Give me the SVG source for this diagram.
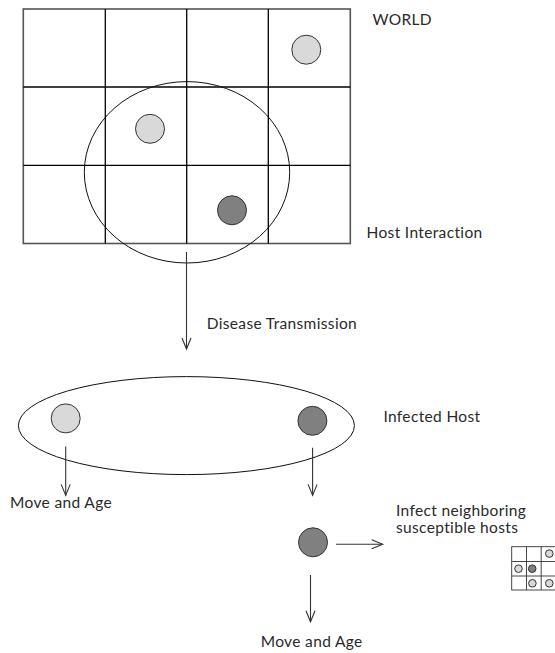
<svg xmlns="http://www.w3.org/2000/svg" width="555" height="653" viewBox="0 0 555 653">
<style>
.lbl{font-family:Lato,"Noto Sans","DejaVu Sans",sans-serif;font-size:15.5px;letter-spacing:0.35px;fill:#2a2a2a}
.grid{fill:none;stroke:#000;stroke-width:1.3}
.outer{fill:none;stroke:#555;stroke-width:1.6}
.ring{fill:none;stroke:#111;stroke-width:1}
.light{fill:#d9d9d9;stroke:#333;stroke-width:1}
.dark{fill:#808080;stroke:#333;stroke-width:1}
.conn{fill:none;stroke:#333;stroke-width:1.1;marker-end:url(#vh)}
.sg{fill:none;stroke:#333;stroke-width:0.9}
</style>
<defs>
<marker id="vh" markerUnits="userSpaceOnUse" markerWidth="14" markerHeight="14" viewBox="-12 -7 14 14" refX="0" refY="0" orient="auto" overflow="visible">
<path d="M-11,-4.5 L0,0 L-11,4.5" fill="none" stroke="#333" stroke-width="1.1"/>
</marker>
</defs>
<rect width="555" height="653" fill="#fff"/>

<g id="world">
<rect class="outer" x="23.3" y="9" width="327" height="234.5"/>
<line class="grid" x1="105.3" y1="9" x2="105.3" y2="243.5"/>
<line class="grid" x1="186.7" y1="9" x2="186.7" y2="243.5" stroke-width="2"/>
<line class="grid" x1="268.3" y1="9" x2="268.3" y2="243.5"/>
<line class="grid" x1="23.3" y1="87" x2="350.3" y2="87"/>
<line class="grid" x1="23.3" y1="165.3" x2="350.3" y2="165.3"/>
<text class="lbl" x="372.5" y="25">WORLD</text>
</g>

<g id="host-interaction">
<ellipse class="ring" cx="187" cy="172.3" rx="102.7" ry="90.7"/>
<text class="lbl" x="366.5" y="238.3">Host Interaction</text>
</g>

<g id="host-a"><circle class="light" cx="306.3" cy="49.7" r="14.5"/></g>
<g id="host-b"><circle class="light" cx="150" cy="128.8" r="14.5"/></g>
<g id="host-c"><circle class="dark" cx="232" cy="210.3" r="14.5"/></g>

<g id="infected-host">
<ellipse class="ring" cx="186.4" cy="425.6" rx="168" ry="49"/>
<circle class="light" cx="65.7" cy="418.4" r="14.5"/>
<circle class="dark" cx="312.4" cy="420.8" r="14.5"/>
<text class="lbl" x="383.4" y="422">Infected Host</text>
</g>

<g id="infected-single">
<circle class="dark" cx="313" cy="542.3" r="14.5"/>
</g>

<g id="neighbor-grid">
<rect class="sg" x="511.7" y="546.7" width="44.3" height="43.3"/>
<line class="sg" x1="526.5" y1="546.7" x2="526.5" y2="590"/>
<line class="sg" x1="541.2" y1="546.7" x2="541.2" y2="590"/>
<line class="sg" x1="511.7" y1="561.5" x2="556" y2="561.5"/>
<line class="sg" x1="511.7" y1="576" x2="556" y2="576"/>
<circle class="light" cx="549.3" cy="553.6" r="3.8" stroke-width="0.8"/>
<circle class="light" cx="518.5" cy="568.7" r="3.8" stroke-width="0.8"/>
<circle class="dark" cx="532.2" cy="568.7" r="3.8" stroke-width="0.8"/>
<circle class="light" cx="532.4" cy="583.3" r="3.8" stroke-width="0.8"/>
<circle class="light" cx="549.3" cy="583.3" r="3.8" stroke-width="0.8"/>
</g>

<g id="labels">
<text class="lbl" x="206.7" y="328.5">Disease Transmission</text>
<text class="lbl" x="10" y="507.5">Move and Age</text>
<text class="lbl" x="396" y="516">Infect neighboring</text>
<text class="lbl" x="396" y="533.3">susceptible hosts</text>
<text class="lbl" x="260.7" y="646.7">Move and Age</text>
</g>

<g id="connectors">
<line class="conn" x1="186.5" y1="252" x2="186.5" y2="349"/>
<line class="conn" x1="65.7" y1="446.6" x2="65.7" y2="495.4"/>
<line class="conn" x1="312.6" y1="447.7" x2="312.6" y2="495.4"/>
<line class="conn" x1="336" y1="544.3" x2="382.7" y2="544.3"/>
<line class="conn" x1="310.5" y1="575" x2="310.5" y2="621.7"/>
</g>
</svg>
